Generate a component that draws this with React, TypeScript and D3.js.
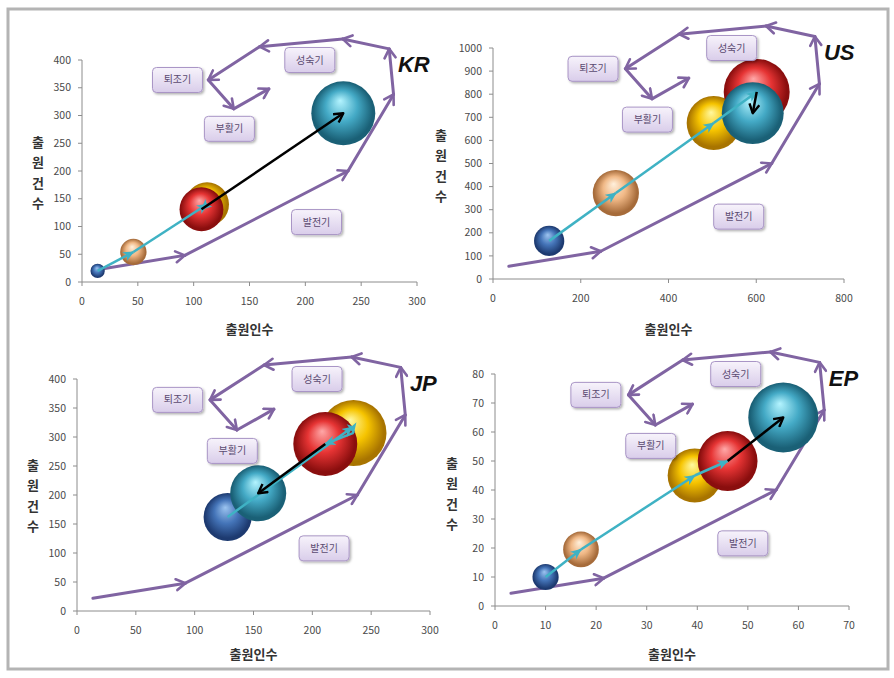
import * as d3 from 'd3';

// 5 periods per country: blue -> tan -> yellow -> red -> teal
const periodColors = ['blue', 'tan', 'yellow', 'red', 'teal'];

const krApplicants = [14, 46, 112, 107, 234];
const krApplications = [20, 54, 140, 131, 304];
const krSizes = [5, 17, 47, 47, 100];

const usApplicants = [128, 280, 503, 601, 592];
const usApplications = [165, 372, 675, 810, 718];
const usSizes = [21, 49, 67, 100, 88];

const jpApplicants = [128, 234, 235, 211, 154];
const jpApplications = [162, 317, 307, 288, 203];
const jpSizes = [53, 37, 100, 94, 72];

const epApplicants = [10, 17, 39.5, 46, 57];
const epApplications = [10, 19.5, 45, 50, 65];
const epSizes = [14, 26, 60, 73, 100];

const krXTicks = [0, 50, 100, 150, 200, 250, 300];
const krYTicks = [0, 50, 100, 150, 200, 250, 300, 350, 400];
const usXTicks = [0, 200, 400, 600, 800];
const usYTicks = [0, 100, 200, 300, 400, 500, 600, 700, 800, 900, 1000];
const jpXTicks = [0, 50, 100, 150, 200, 250, 300];
const jpYTicks = [0, 50, 100, 150, 200, 250, 300, 350, 400];
const epXTicks = [0, 10, 20, 30, 40, 50, 60, 70];
const epYTicks = [0, 10, 20, 30, 40, 50, 60, 70, 80];

// technology life cycle path, as fractions of the axis maxima
const cycleFx = [0.045, 0.307, 0.794, 0.93, 0.917, 0.778, 0.53, 0.377, 0.453, 0.558];
const cycleFy = [0.055, 0.12, 0.5, 0.845, 1.05, 1.095, 1.06, 0.91, 0.78, 0.87];

const stageNames = ['퇴조기', '성숙기', '부활기', '발전기'];
const stageFx = [0.285, 0.68, 0.44, 0.7];
const stageFy = [0.91, 1.0, 0.69, 0.27];

const xTitle = '출원인수';
const yTitle = ['출', '원', '건', '수'];

const gradStops: Record<string, string[]> = {
  blue: ['#9cc4f0', '#4474b8', '#1d3a70'],
  tan: ['#fff0dc', '#f0b886', '#a66b3a'],
  yellow: ['#fff8a0', '#f6c400', '#a87400'],
  red: ['#ffa8a8', '#e63434', '#8a0e0e'],
  teal: ['#b4f4ff', '#44aac6', '#1a6076'],
};

const FONT = '"Noto Sans CJK KR", "Noto Sans", sans-serif';

interface PanelCfg {
  code: string;
  xs: number[];
  ys: number[];
  sizes: number[];
  xTicks: number[];
  yTicks: number[];
  plot: { left: number; right: number; top: number; bottom: number };
  rMax: number;
  yTitleX: number;
  yTitleY: number;
  xTitleDy: number;
}

const panels: PanelCfg[] = [
  { code: 'KR', xs: krApplicants, ys: krApplications, sizes: krSizes, xTicks: krXTicks, yTicks: krYTicks,
    plot: { left: 82, right: 417, top: 60, bottom: 282 }, rMax: 32, yTitleX: 38, yTitleY: 142, xTitleDy: 47 },
  { code: 'US', xs: usApplicants, ys: usApplications, sizes: usSizes, xTicks: usXTicks, yTicks: usYTicks,
    plot: { left: 493, right: 844, top: 48, bottom: 279 }, rMax: 33, yTitleX: 441, yTitleY: 135, xTitleDy: 50 },
  { code: 'JP', xs: jpApplicants, ys: jpApplications, sizes: jpSizes, xTicks: jpXTicks, yTicks: jpYTicks,
    plot: { left: 77, right: 430, top: 379, bottom: 611 }, rMax: 33, yTitleX: 33, yTitleY: 465, xTitleDy: 43 },
  { code: 'EP', xs: epApplicants, ys: epApplications, sizes: epSizes, xTicks: epXTicks, yTicks: epYTicks,
    plot: { left: 495, right: 849, top: 374, bottom: 606 }, rMax: 35, yTitleX: 452, yTitleY: 463, xTitleDy: 48 },
];

function Panel({ cfg }: { cfg: PanelCfg }) {
  const { left, right, top, bottom } = cfg.plot;
  const xMax = d3.max(cfg.xTicks)!;
  const yMax = d3.max(cfg.yTicks)!;
  const x = d3.scaleLinear().domain([0, xMax]).range([left, right]);
  const y = d3.scaleLinear().domain([0, yMax]).range([bottom, top]);
  const r = d3.scaleSqrt().domain([0, 100]).range([0, cfg.rMax]);
  const fx = (f: number) => x(f * xMax);
  const fy = (f: number) => y(f * yMax);

  const pts = cfg.xs.map((v, i) => ({ cx: x(v), cy: y(cfg.ys[i]), r: r(cfg.sizes[i]), color: periodColors[i] }));

  return (
    <g>
      {/* axes */}
      <line x1={left} x2={left} y1={bottom} y2={top} stroke="#8c8c8c" strokeWidth={1} />
      <line x1={left} x2={right} y1={bottom} y2={bottom} stroke="#8c8c8c" strokeWidth={1} />
      {cfg.yTicks.map(t => (
        <g key={'y' + t}>
          <line x1={left - 4} x2={left} y1={y(t)} y2={y(t)} stroke="#8c8c8c" />
          <text x={left - 11} y={y(t)} dy="0.35em" textAnchor="end" fontSize={10.5} fill="#4a4a4a" fontFamily={FONT}>{t}</text>
        </g>
      ))}
      {cfg.xTicks.map(t => (
        <g key={'x' + t}>
          <line x1={x(t)} x2={x(t)} y1={bottom} y2={bottom + 4} stroke="#8c8c8c" />
          <text x={x(t)} y={bottom + 19} dy="0.35em" textAnchor="middle" fontSize={10.5} fill="#4a4a4a" fontFamily={FONT}>{t}</text>
        </g>
      ))}
      <text x={(left + right) / 2} y={bottom + cfg.xTitleDy} dy="0.35em" textAnchor="middle" fontSize={13} fontWeight="bold" fill="#333" fontFamily={FONT}>{xTitle}</text>
      {yTitle.map((c, i) => (
        <text key={c} x={cfg.yTitleX} y={cfg.yTitleY + i * 20.5} dy="0.35em" textAnchor="middle" fontSize={13} fontWeight="bold" fill="#333" fontFamily={FONT}>{c}</text>
      ))}

      {/* life cycle arrows */}
      {d3.range(cycleFx.length - 1).map(i => (
        <line key={'c' + i} x1={fx(cycleFx[i])} y1={fy(cycleFy[i])} x2={fx(cycleFx[i + 1])} y2={fy(cycleFy[i + 1])}
          stroke="#8064a2" strokeWidth={3} strokeLinecap="round" markerEnd="url(#arrPurple)" />
      ))}

      {/* bubbles */}
      {pts.map((p, i) => (
        <circle key={'b' + i} cx={p.cx} cy={p.cy} r={p.r} fill={`url(#g-${p.color})`} />
      ))}

      {/* period trajectory */}
      {d3.range(pts.length - 1).map(i => {
        const last = i === pts.length - 2;
        return (
          <line key={'t' + i} x1={pts[i].cx} y1={pts[i].cy} x2={pts[i + 1].cx} y2={pts[i + 1].cy}
            stroke={last ? '#000' : '#3fb2c4'} strokeWidth={2.5}
            markerEnd={last ? 'url(#arrBlack)' : 'url(#arrCyan)'} />
        );
      })}

      {/* stage boxes */}
      {stageNames.map((s, i) => {
        const cx = fx(stageFx[i]);
        const cy = fy(stageFy[i]);
        return (
          <g key={s}>
            <rect x={cx - 25} y={cy - 12.5} width={50} height={25} rx={4} fill="url(#boxGrad)" stroke="#a995c6" strokeWidth={1} filter="url(#shadow)" />
            <text x={cx} y={cy} dy="0.35em" textAnchor="middle" fontSize={10} fill="#5a4a70" fontFamily={FONT}>{s}</text>
          </g>
        );
      })}

      <text x={fx(0.943)} y={fy(0.947)} fontSize={22} fontWeight="bold" fontStyle="italic" fill="#111" fontFamily='"Liberation Sans", Arial, sans-serif'>{cfg.code}</text>
    </g>
  );
}

export default function App() {
  return (
    <svg width={894} height={678} style={{ position: 'absolute', left: 0, top: 0, background: '#fff' }}>
      <defs>
        {Object.entries(gradStops).map(([k, c]) => (
          <radialGradient key={k} id={`g-${k}`} cx="50%" cy="50%" r="55%" fx="45%" fy="30%">
            <stop offset="0%" stopColor={c[0]} />
            <stop offset="45%" stopColor={c[1]} />
            <stop offset="85%" stopColor={c[2]} />
            <stop offset="100%" stopColor={c[2]} />
          </radialGradient>
        ))}
        <linearGradient id="boxGrad" x1="0" y1="0" x2="0" y2="1">
          <stop offset="0%" stopColor="#f7f3fb" />
          <stop offset="100%" stopColor="#d9cdea" />
        </linearGradient>
        <filter id="shadow" x="-20%" y="-20%" width="150%" height="160%">
          <feDropShadow dx={1.5} dy={1.5} stdDeviation={1.2} floodColor="#000" floodOpacity={0.3} />
        </filter>
        <marker id="arrPurple" viewBox="0 0 14 14" refX={11} refY={7} markerWidth={14} markerHeight={14} orient="auto" markerUnits="userSpaceOnUse">
          <path d="M2,1.5 L11,7 L2,12.5" fill="none" stroke="#8064a2" strokeWidth={2.6} strokeLinecap="round" strokeLinejoin="round" />
        </marker>
        <marker id="arrCyan" viewBox="0 0 12 12" refX={10} refY={6} markerWidth={12} markerHeight={12} orient="auto" markerUnits="userSpaceOnUse">
          <path d="M0,1 L11,6 L0,11 L3,6 Z" fill="#3fb2c4" />
        </marker>
        <marker id="arrBlack" viewBox="0 0 12 12" refX={10} refY={6} markerWidth={12} markerHeight={12} orient="auto" markerUnits="userSpaceOnUse">
          <path d="M1,1 L10,6 L1,11" fill="none" stroke="#000" strokeWidth={2.4} strokeLinejoin="round" />
        </marker>
      </defs>
      <rect x={8} y={9} width={880} height={660} fill="#fff" stroke="#b4b4b4" strokeWidth={3} />
      {panels.map(p => <Panel key={p.code} cfg={p} />)}
    </svg>
  );
}
